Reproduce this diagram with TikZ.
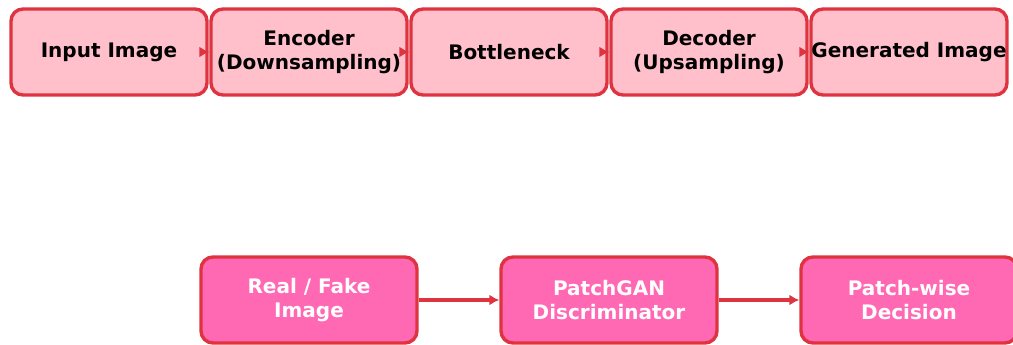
\documentclass[tikz,border=0pt]{standalone}
\usepackage{fontspec}
\setmainfont{DejaVu Sans}
\usetikzlibrary{arrows.meta}
\definecolor{edgered}{RGB}{222,52,64}
\definecolor{lightpink}{RGB}{255,192,203}
\definecolor{hotpink}{RGB}{255,105,180}

\begin{document}
\begin{tikzpicture}[x=1pt,y=-1pt,
  genbox/.style={draw=edgered,line width=3.4pt,fill=lightpink,rounded corners=12pt,
    minimum width=196pt,minimum height=86pt,inner xsep=0pt,align=center,
    font=\fontsize{20}{23.5}\selectfont\bfseries},
  discbox/.style={genbox,fill=hotpink,text=white,minimum width=216pt},
  arr/.style={draw=edgered,line width=3.2pt,-{Latex[length=10pt,width=11pt]}}]
\useasboundingbox (0,0) rectangle (1013,345);
\clip (0,0) rectangle (1013,345);

% generator
\node[genbox] (input) at (109,52) {Input Image};
\node[genbox] (enc) at (309,52) {Encoder\\(Downsampling)};
\node[genbox] (bottle) at (509,52) {Bottleneck};
\node[genbox] (dec) at (709,52) {Decoder\\(Upsampling)};
\node[genbox] (gen) at (909,52) {Generated Image};

\draw[arr] ([xshift=-8pt]input.east) -- (enc.west);
\draw[arr] ([xshift=-8pt]enc.east) -- (bottle.west);
\draw[arr] ([xshift=-8pt]bottle.east) -- (dec.west);
\draw[arr] ([xshift=-8pt]dec.east) -- (gen.west);

% discriminator
\node[discbox] (realfake) at (309,300) {Real / Fake\\Image};
\node[discbox] (patchgan) at (609,300) {PatchGAN\\Discriminator};
\node[discbox] (decision) at (909,300) {Patch-wise\\Decision};

\draw[arr] (realfake.east) -- (patchgan.west);
\draw[arr] (patchgan.east) -- (decision.west);

\end{tikzpicture}
\end{document}
